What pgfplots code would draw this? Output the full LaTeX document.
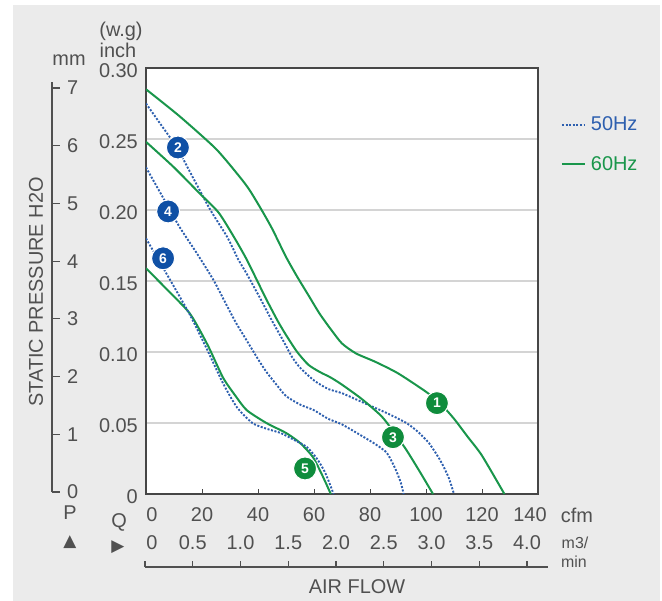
\documentclass[border=0pt]{standalone}
\usepackage{pgfplots}
\pgfplotsset{compat=1.18}
\usepackage{fontspec}
\setmainfont{Liberation Sans}
\newfontfamily\symfont{DejaVu Sans}
\definecolor{bgray}{RGB}{235,235,235}
\definecolor{tgray}{RGB}{80,80,80}
\definecolor{framec}{RGB}{70,70,70}
\definecolor{gridc}{RGB}{212,212,212}
\definecolor{cgreen}{RGB}{25,150,75}
\definecolor{cblue}{RGB}{45,95,175}
\definecolor{lblue}{RGB}{15,80,165}
\definecolor{lgreen}{RGB}{15,140,60}
\begin{document}
\begin{tikzpicture}[x=1bp,y=1bp,font=\fontsize{20}{24}\selectfont,
  num/.style={circle,draw=white,line width=1bp,minimum size=23bp,inner sep=0pt,text=white,font=\fontsize{14}{14}\selectfont\bfseries}]
\fill[white] (0,0) rectangle (662,-601);
\fill[bgray] (13,-5) rectangle (660,-601);

% mm scale
\begin{axis}[at={(52bp,-492bp)},anchor=south west,scale only axis,
  width=1bp,height=409.7bp,xmin=0,xmax=1,ymin=0,ymax=7.1,
  axis y line=left,axis x line=none,
  y axis line style={-,tgray,line width=1.2bp},
  ytick={0,1,2,3,4,5,6,7},ytick align=inside,major tick length=8bp,
  tick style={tgray,line width=1.2bp},
  yticklabel style={anchor=west,inner sep=0pt,xshift=15bp,text=tgray},
  /pgf/number format/assume math mode=true]
\end{axis}

% m3/min ruler
\begin{axis}[at={(145bp,-567bp)},anchor=south west,scale only axis,
  width=403bp,height=10bp,xmin=0,xmax=4.22,ymin=0,ymax=1,
  axis x line=bottom,axis y line=none,
  x axis line style={-,tgray,line width=1.2bp},
  xtick={0,0.5,1,1.5,2,2.5,3,3.5,4},
  xticklabels={\hspace*{14bp}0,0.5,1.0,1.5,2.0,2.5,3.0,3.5,4.0},
  xtick align=inside,major tick length=6bp,
  tick style={tgray,line width=1.2bp},
  xticklabel style={anchor=center,yshift=24bp,inner sep=0pt,text=tgray}]
\end{axis}

% main chart
\begin{axis}[at={(146bp,-494bp)},anchor=south west,scale only axis,
  width=392bp,height=426bp,xmin=0,xmax=140,ymin=0,ymax=0.30,
  axis background/.style={fill=white},
  axis line style={framec,line width=1.6bp},
  xtick={0,20,40,60,80,100,120,140},
  xticklabels={\hspace*{12bp}0,20,40,60,80,100,120,140\hspace*{16bp}},
  xtick pos=bottom,xtick align=inside,major tick length=5bp,
  xtick style={framec,line width=1bp},
  xticklabel style={anchor=center,yshift=-21bp,inner sep=0pt,text=tgray},
  ytick={0,0.05,0.1,0.15,0.2,0.25,0.3},
  yticklabels={0,0.05,0.10,0.15,0.20,0.25,0.30},
  ytick style={draw=none},
  yticklabel style={anchor=east,inner sep=0pt,xshift=-8bp,yshift=-3bp,text=tgray},
  ymajorgrids,grid style={gridc,line width=1.5bp},
  legend style={at={(1.058,0.89)},anchor=north west,draw=none,fill=none,
    row sep=20bp,font=\fontsize{20}{24}\selectfont,inner sep=0pt},
  legend cell align=left,
  legend image code/.code={\draw[#1] (0bp,0bp) -- (23bp,0bp);},
  blueline/.style={cblue,line width=1.9bp,dash pattern=on 2bp off 1.6bp,smooth,tension=0.4},
  greenline/.style={cgreen,line width=2bp,smooth,tension=0.4}]

% curve 2 (50Hz)
\addplot[blueline] coordinates {(0,0.275)(5,0.261)(11,0.244)(17,0.222)(23,0.200)(29,0.181)(33,0.165)(36,0.155)(41,0.137)(45,0.122)(49,0.108)(52,0.097)(55,0.089)(60,0.080)(65,0.074)(70,0.071)(78,0.064)(86,0.057)(93,0.050)(97,0.044)(101,0.036)(105,0.024)(108,0.012)(110,0)};
\addlegendentry{\hspace*{3bp}\textcolor{cblue}{50Hz}}
% curve 1 (60Hz)
\addplot[greenline] coordinates {(0,0.285)(12,0.266)(25,0.243)(33.6,0.223)(37,0.214)(41,0.201)(45,0.187)(50,0.167)(54,0.153)(58,0.140)(62,0.127)(66,0.116)(70,0.106)(75,0.099)(82,0.093)(90,0.085)(100,0.072)(105,0.064)(110,0.053)(115,0.040)(120,0.027)(128,0)};
\addlegendentry{\hspace*{3bp}\textcolor{cgreen}{60Hz}}
% curve 3
\addplot[greenline,forget plot] coordinates {(0,0.248)(10,0.230)(19,0.212)(26,0.198)(32,0.179)(36,0.165)(40,0.149)(43,0.137)(47,0.122)(50,0.112)(54,0.100)(58,0.091)(62,0.086)(66,0.082)(70,0.077)(77,0.067)(84,0.055)(88,0.045)(93,0.031)(98,0.015)(102.5,0)};
% curve 4
\addplot[blueline,forget plot] coordinates {(0,0.230)(6,0.209)(12,0.188)(18,0.170)(24,0.151)(28,0.136)(32,0.121)(36,0.108)(40,0.095)(43,0.086)(47,0.076)(50,0.069)(55,0.063)(60,0.059)(65,0.053)(70,0.049)(77,0.041)(82,0.035)(86,0.029)(89,0.018)(91,0.008)(92,0)};
% curve 5
\addplot[greenline,forget plot] coordinates {(0,0.159)(7.5,0.144)(15.7,0.127)(22,0.105)(27.5,0.082)(32,0.069)(36,0.059)(43,0.050)(50,0.043)(55,0.036)(59.6,0.026)(63,0.013)(66,0)};
% curve 6
\addplot[blueline,forget plot] coordinates {(0,0.180)(5,0.163)(10,0.146)(16,0.125)(22,0.101)(27.5,0.078)(32.5,0.061)(38,0.050)(43,0.046)(48,0.043)(53,0.038)(57.5,0.033)(61,0.025)(64,0.015)(67,0)};

\node[num,fill=lgreen] at (axis cs:103.9,0.064) {1};
\node[num,fill=lblue] at (axis cs:11.4,0.244) {2};
\node[num,fill=lgreen] at (axis cs:88.2,0.040) {3};
\node[num,fill=lblue] at (axis cs:7.9,0.199) {4};
\node[num,fill=lgreen] at (axis cs:56.8,0.018) {5};
\node[num,fill=lblue] at (axis cs:6.1,0.166) {6};
\end{axis}

\begin{scope}[every node/.style={text=tgray,inner sep=1bp}]
\node at (69,-60) {mm};
\node at (121,-31) {(w.g)};
\node at (118,-50) {inch};
\node[rotate=90] at (36,-292) {STATIC PRESSURE H2O};
\node at (70,-513) {P};
\node[font=\fontsize{17}{17}\selectfont\symfont] at (70,-542) {▲};
\node at (119,-522) {Q};
\node[font=\fontsize{17}{17}\selectfont\symfont] at (118,-547) {▶};
\node at (577,-515) {cfm};
\node[font=\fontsize{16}{18}\selectfont] at (575,-543) {m3/};
\node[font=\fontsize{16}{18}\selectfont] at (574,-562) {min};
\node at (357,-587) {AIR FLOW};
\end{scope}
\end{tikzpicture}
\end{document}
